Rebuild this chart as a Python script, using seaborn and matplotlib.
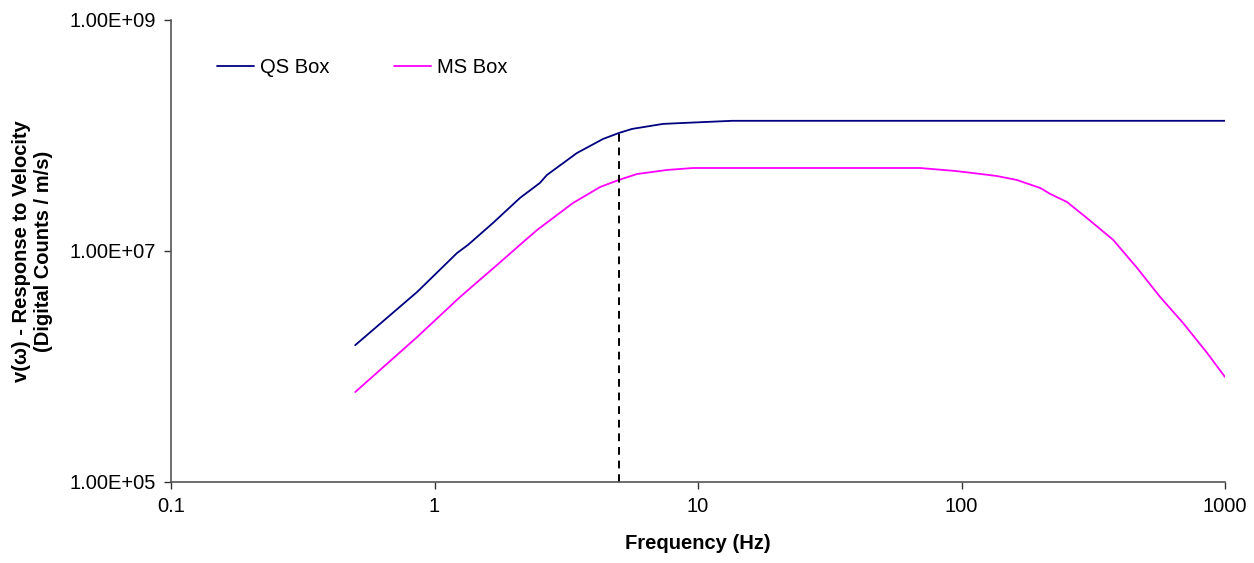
import numpy as np
import pandas as pd
import matplotlib
matplotlib.use("Agg")
import matplotlib.pyplot as plt
import matplotlib.ticker as mticker
import seaborn as sns

# Response curves (Hz, counts per m/s)
qs_freq = [0.5, 0.859, 1.217, 1.34, 1.667, 2.11, 2.51, 2.67, 3.47, 4.36, 5.0, 5.62,
           7.37, 8.55, 13.5, 1000]
qs_resp = [1.53e6, 4.42e6, 9.6e6, 1.13e7, 1.75e7, 2.88e7, 3.88e7, 4.55e7, 7.05e7,
           9.33e7, 1.05e8, 1.14e8, 1.26e8, 1.28e8, 1.34e8, 1.34e8]

ms_freq = [0.5, 0.859, 1.25, 1.727, 2.11, 2.45, 3.35, 4.25, 5.0, 5.87, 7.63, 9.57,
           69.6, 94.5, 110.6, 136, 162, 199, 217, 251, 299, 376, 464, 567, 693, 855, 1000]
ms_resp = [6.01e5, 1.80e6, 4.0e6, 7.57e6, 1.13e7, 1.52e7, 2.60e7, 3.58e7, 4.12e7,
           4.64e7, 5.03e7, 5.23e7, 5.23e7, 4.93e7, 4.73e7, 4.46e7, 4.12e7, 3.51e7,
           3.12e7, 2.66e7, 1.93e7, 1.25e7, 7.12e6, 4.0e6, 2.38e6, 1.31e6, 8.1e5]

cutoff_freq = 5.0
x_ticks = [0.1, 1, 10, 100, 1000]
x_labels = ["0.1", "1", "10", "100", "1000"]
y_ticks = [1e5, 1e7, 1e9]
y_labels = ["1.00E+05", "1.00E+07", "1.00E+09"]

df = pd.concat([
    pd.DataFrame({"freq": qs_freq, "resp": qs_resp, "box": "QS Box"}),
    pd.DataFrame({"freq": ms_freq, "resp": ms_resp, "box": "MS Box"}),
])

sns.set_style("ticks")
plt.rcParams["font.family"] = ["Liberation Sans", "DejaVu Sans"]
plt.rcParams["text.color"] = "black"
plt.rcParams["axes.labelcolor"] = "black"

fig = plt.figure(figsize=(12.54, 5.63), dpi=100)
ax = fig.add_axes([0.1364, 0.1439, 0.8405, 0.8206])

sns.lineplot(data=df, x="freq", y="resp", hue="box", sort=False,
             palette={"QS Box": "#000080", "MS Box": "#FF00FF"},
             linewidth=1.3, ax=ax)

# dashed marker at the corner frequency, up to the QS curve
qs_at_cut = qs_resp[qs_freq.index(cutoff_freq)]
ax.plot([cutoff_freq, cutoff_freq], [y_ticks[0], qs_at_cut], color="black",
        linestyle=(0, (4, 3)), linewidth=1.4)

ax.set_xscale("log")
ax.set_yscale("log")
ax.set_xlim(x_ticks[0], x_ticks[-1])
ax.set_ylim(y_ticks[0], y_ticks[-1])
ax.set_xticks(x_ticks)
ax.set_xticklabels(x_labels)
ax.set_yticks(y_ticks)
ax.set_yticklabels(y_labels)
ax.xaxis.set_minor_locator(mticker.NullLocator())
ax.yaxis.set_minor_locator(mticker.NullLocator())
ax.tick_params(axis="both", direction="out", length=5, width=1, labelsize=14.5,
               color="#333333", labelcolor="black", pad=6)
for side in ["top", "right"]:
    ax.spines[side].set_visible(False)
for side in ["left", "bottom"]:
    ax.spines[side].set_color("#555555")
    ax.spines[side].set_linewidth(1.2)

ax.set_xlabel("Frequency (Hz)", fontsize=14.5, fontweight="bold", labelpad=13)
ax.set_ylabel("v(ω) - Response to Velocity\n(Digital Counts / m/s)", fontsize=14.5,
              fontweight="bold", labelpad=12)

ax.legend(loc="upper left", bbox_to_anchor=(0.026, 0.957), ncol=2, frameon=False,
          fontsize=14.5, handlelength=1.85, handletextpad=0.3, columnspacing=3.2,
          labelcolor="black")

fig.savefig("out.png", dpi=100)
